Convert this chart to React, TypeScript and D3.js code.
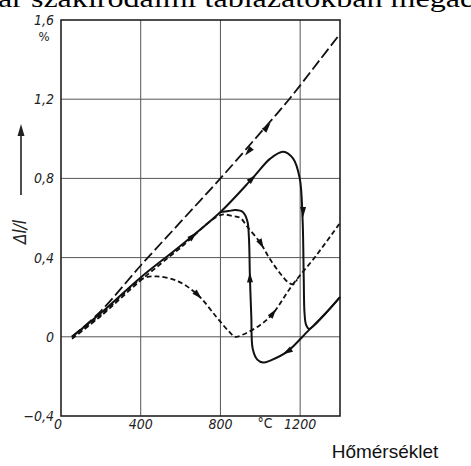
import { useEffect, useRef } from "react";
import * as d3 from "d3";

// tick values
const xTicks = [0, 400, 800, 1200];
const yTicks = [-0.4, 0, 0.4, 0.8, 1.2, 1.6];
const xGrid = [400, 800, 1200];
const yGrid = [0, 0.4, 0.8, 1.2];

// long dashed: heating and cooling along the same line
const longDashed: [number, number][] = [
  [55, 0], [200, 0.13], [400, 0.36], [600, 0.58], [800, 0.8], [1000, 1.03], [1145, 1.2], [1300, 1.4], [1400, 1.53],
];

// solid: heating
const solidHeat: [number, number][] = [
  [55, 0], [200, 0.12], [400, 0.3], [600, 0.46], [800, 0.63], [960, 0.8], [1050, 0.9], [1115, 0.935],
  [1165, 0.9], [1198, 0.8], [1212, 0.6], [1218, 0.3], [1222, 0.12], [1230, 0.06], [1245, 0.04], [1320, 0.11], [1400, 0.2],
];

// solid: cooling
const solidCool: [number, number][] = [
  [1400, 0.2], [1320, 0.11], [1240, 0.03], [1135, -0.075], [1050, -0.12], [1015, -0.13], [985, -0.115],
  [962, -0.06], [955, 0.1], [948, 0.3], [943, 0.5], [935, 0.585], [912, 0.63], [875, 0.64], [840, 0.635], [800, 0.63],
];

// short dashed 1
const shortDashed1: [number, number][] = [
  [55, 0], [200, 0.11], [350, 0.25], [412, 0.295], [480, 0.305], [588, 0.28], [688, 0.21], [780, 0.1],
  [840, 0.03], [875, 0.0], [910, 0.01], [1000, 0.06], [1065, 0.12], [1160, 0.26], [1280, 0.41], [1400, 0.575],
];

// short dashed 2
const shortDashed2: [number, number][] = [
  [55, -0.01], [200, 0.105], [400, 0.285], [600, 0.45], [800, 0.615], [860, 0.61], [900, 0.6], [935, 0.556],
  [1000, 0.475], [1050, 0.39], [1100, 0.32], [1140, 0.275], [1165, 0.265], [1185, 0.29],
];

// arrows: position and a point giving the direction
const arrows: [number, number, number, number][] = [
  [1035, 1.06, 1045, 1.072],
  [940, 0.935, 930, 0.923],
  [960, 0.8, 970, 0.81],
  [663, 0.51, 673, 0.519],
  [1215, 0.63, 1215.5, 0.6],
  [948, 0.3, 947.5, 0.33],
  [1135, -0.075, 1125, -0.081],
  [688, 0.21, 698, 0.2],
  [1065, 0.12, 1075, 0.133],
  [1005, 0.468, 1012, 0.455],
];

export default function App() {
  const ref = useRef<SVGSVGElement>(null);

  useEffect(() => {
    const svg = d3.select(ref.current);
    svg.selectAll("*").remove();

    const x = d3.scaleLinear().domain([0, 1400]).range([61, 340]);
    const y = d3.scaleLinear().domain([-0.4, 1.6]).range([416, 20]);
    const numFont = "'DejaVu Sans Condensed', 'DejaVu Sans', sans-serif";

    // cut-off text line at top
    svg.append("text")
      .attr("x", -2).attr("y", 6.5)
      .attr("font-family", "'Liberation Serif', serif")
      .attr("font-size", 26)
      .attr("textLength", 478)
      .attr("lengthAdjust", "spacingAndGlyphs")
      .text("ar szakirodalmi táblázatokban megad");

    // grid
    svg.append("g").selectAll("line").data(xGrid).join("line")
      .attr("x1", d => x(d)).attr("x2", d => x(d))
      .attr("y1", y(1.6)).attr("y2", y(-0.4))
      .attr("stroke", "#555").attr("stroke-width", 1);
    svg.append("g").selectAll("line").data(yGrid).join("line")
      .attr("x1", x(0)).attr("x2", x(1400))
      .attr("y1", d => y(d)).attr("y2", d => y(d))
      .attr("stroke", "#555").attr("stroke-width", 1);

    // frame
    svg.append("rect")
      .attr("x", x(0)).attr("y", y(1.6))
      .attr("width", x(1400) - x(0)).attr("height", y(-0.4) - y(1.6))
      .attr("fill", "none").attr("stroke", "#222").attr("stroke-width", 1.6);

    // y tick labels
    const yl = svg.append("g")
      .attr("font-family", numFont).attr("font-style", "italic")
      .attr("font-stretch", "condensed")
      .attr("font-size", 14).attr("fill", "#222");
    yl.selectAll("text").data(yTicks).join("text")
      .attr("x", 54)
      .attr("y", d => (d === 1.6 ? y(d) + 5 : y(d) + 5))
      .attr("text-anchor", "end")
      .text(d => (d === 0 ? "0" : d3.format(".1f")(d).replace(".", ",").replace("-", "\u2212")));
    yl.append("text").attr("x", 44).attr("y", y(1.6) + 21)
      .attr("text-anchor", "middle").attr("font-style", "normal").attr("font-size", 13).text("%");

    // x tick labels
    const xl = svg.append("g")
      .attr("font-family", numFont).attr("font-style", "italic")
      .attr("font-stretch", "condensed")
      .attr("font-size", 14).attr("fill", "#222");
    xl.selectAll("text").data(xTicks).join("text")
      .attr("x", d => (d === 0 ? x(d) - 3 : x(d)))
      .attr("y", 429)
      .attr("text-anchor", "middle")
      .text(d => String(d));
    xl.append("text").attr("x", 265).attr("y", 428)
      .attr("text-anchor", "middle").attr("font-style", "normal").text("°C");

    // y axis title with arrow
    svg.append("text")
      .attr("transform", `translate(26, 232) rotate(-90)`)
      .attr("font-family", numFont).attr("font-style", "italic")
      .attr("font-size", 17).attr("fill", "#222")
      .attr("text-anchor", "middle")
      .text("Δl/l");
    svg.append("line")
      .attr("x1", 21).attr("x2", 21).attr("y1", 195).attr("y2", 134)
      .attr("stroke", "#222").attr("stroke-width", 1.6);
    svg.append("path")
      .attr("d", "M21,124 L17.5,136 L24.5,136 Z").attr("fill", "#222");

    // x axis title
    svg.append("text")
      .attr("x", 385).attr("y", 458)
      .attr("font-family", "'Liberation Sans', Arial, sans-serif")
      .attr("font-size", 19).attr("fill", "#111")
      .attr("text-anchor", "middle")
      .text("Hőmérséklet");

    // curves
    const line = d3.line<[number, number]>()
      .x(d => x(d[0])).y(d => y(d[1]))
      .curve(d3.curveCatmullRom.alpha(0.5));

    const curves: { data: [number, number][]; dash: string | null; w: number }[] = [
      { data: longDashed, dash: "11 4", w: 1.8 },
      { data: shortDashed1, dash: "5 3", w: 1.8 },
      { data: shortDashed2, dash: "5 3", w: 1.8 },
      { data: solidHeat, dash: null, w: 2 },
      { data: solidCool, dash: null, w: 2 },
    ];
    curves.forEach(c => {
      svg.append("path")
        .attr("d", line(c.data))
        .attr("fill", "none")
        .attr("stroke", "#111")
        .attr("stroke-width", c.w)
        .attr("stroke-dasharray", c.dash)
        .attr("stroke-linejoin", "round");
    });

    // arrowheads
    svg.append("g").selectAll("path").data(arrows).join("path")
      .attr("d", "M5,0 L-5,-3 L-5,3 Z")
      .attr("fill", "#111")
      .attr("transform", d => {
        const ang = (Math.atan2(y(d[3]) - y(d[1]), x(d[2]) - x(d[0])) * 180) / Math.PI;
        return `translate(${x(d[0])},${y(d[1])}) rotate(${ang})`;
      });
  }, []);

  return (
    <svg
      ref={ref}
      width={471}
      height={466}
      style={{ position: "absolute", left: 0, top: 0, background: "#fff" }}
    />
  );
}
